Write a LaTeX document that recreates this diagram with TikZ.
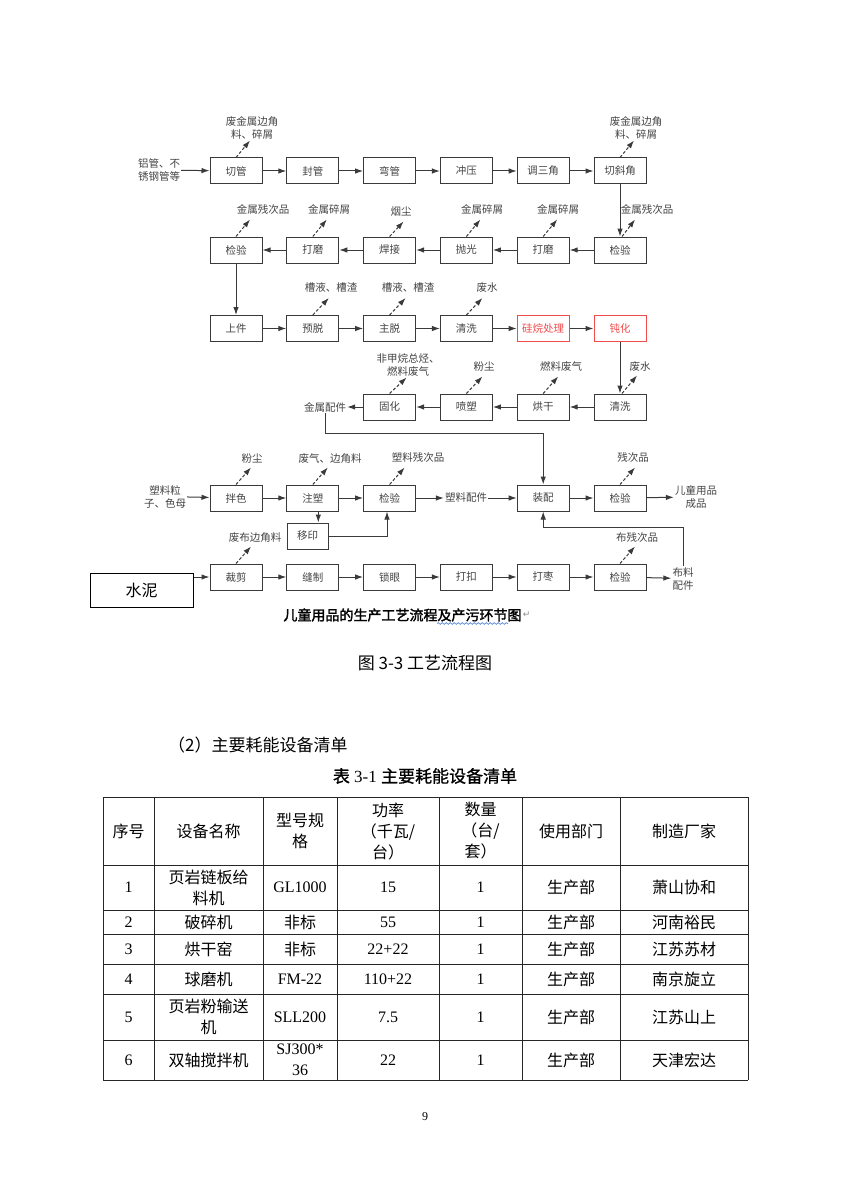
\documentclass[tikz,border=0pt]{standalone}
\usepackage{fontspec}
\setmainfont{Liberation Serif}
\newfontfamily\cjk{Noto Sans CJK SC}
\newfontfamily\cjkb[FakeBold=2]{Noto Sans CJK SC}
\newfontfamily\cjkm[FakeBold=0.8]{Noto Sans CJK SC}
\newfontfamily\symf{DejaVu Sans}
\usepackage{tikz}
\usetikzlibrary{arrows.meta,positioning,decorations.pathmorphing}
\definecolor{linex}{HTML}{3A3A3A}
\definecolor{textx}{HTML}{444444}
\definecolor{redx}{HTML}{F24B4B}
\definecolor{wavex}{HTML}{5B8BD9}
\tikzset{
  ar/.style={-{Latex[length=8pt,width=5.5pt]},line width=1pt,linex},
  em/.style={-{Latex[length=8pt,width=5.5pt]},line width=1pt,linex,dash pattern=on 3pt off 2pt},
  box/.style={draw=linex,line width=1pt,minimum width=52pt,minimum height=26pt,inner sep=0pt,font=\cjk\fontsize{10.5}{10.5}\selectfont,text=textx},
  rbox/.style={box,draw=redx,text=redx},
  lab/.style={font=\cjk\fontsize{10.5}{13}\selectfont,text=textx,align=center,inner sep=1pt},
  cell/.style={font=\cjk\fontsize{16}{21}\selectfont,align=center,inner sep=0pt},
  num/.style={font=\fontsize{16}{21}\selectfont,align=center,inner sep=0pt},
  tl/.style={line width=0.9pt,black!85}
}
\begin{document}
\begin{tikzpicture}[x=1pt,y=-1pt]
\useasboundingbox (0,0) rectangle (850,1201);
\fill[white] (0,0) rectangle (850,1201);

% row 1
\node[lab] (in1) at (159,170) {铝管、不\\锈钢管等};
\node[box] (a1) at (236,171) {切管};
\node[box] (a2) at (312.8,171) {封管};
\node[box] (a3) at (389.6,171) {弯管};
\node[box] (a4) at (466.4,171) {冲压};
\node[box] (a5) at (543.2,171) {调三角};
\node[box] (a6) at (620,171) {切斜角};
\draw[ar] (in1) -- (a1);
\draw[ar] (a1) -- (a2);
\draw[ar] (a2) -- (a3);
\draw[ar] (a3) -- (a4);
\draw[ar] (a4) -- (a5);
\draw[ar] (a5) -- (a6);
\draw[em] (a1.north) -- ++(14,-17);
\draw[em] (a6.north) -- ++(14,-17);
\node[lab] (w1) at (252,128) {废金属边角\\料、碎屑};
\node[lab] (w2) at (636,128) {废金属边角\\料、碎屑};

% row 2
\node[box] (b1) at (236,250) {检验};
\node[box] (b2) at (312.8,250) {打磨};
\node[box] (b3) at (389.6,250) {焊接};
\node[box] (b4) at (466.4,250) {抛光};
\node[box] (b5) at (543.2,250) {打磨};
\node[box] (b6) at (620,250) {检验};
\draw[ar] (a6) -- (b6);
\draw[ar] (b6) -- (b5);
\draw[ar] (b5) -- (b4);
\draw[ar] (b4) -- (b3);
\draw[ar] (b3) -- (b2);
\draw[ar] (b2) -- (b1);
\draw[em] (b1.north) -- ++(14,-17);
\draw[em] (b2.north) -- ++(14,-17);
\draw[em] (b3.north) -- ++(14,-15);
\draw[em] (b4.north) -- ++(14,-17);
\draw[em] (b5.north) -- ++(14,-17);
\draw[em] ([xshift=2pt]b6.north) -- ++(13,-17);
\node[lab] (w3) at (263,209) {金属残次品};
\node[lab] (w4) at (329,209) {金属碎屑};
\node[lab] (w5) at (401,212) {烟尘};
\node[lab] (w6) at (482,209) {金属碎屑};
\node[lab] (w7) at (558,209) {金属碎屑};
\node[lab] (w8) at (647,209) {金属残次品};

% row 3
\node[box] (c1) at (236,328.5) {上件};
\node[box] (c2) at (312.8,328.5) {预脱};
\node[box] (c3) at (389.6,328.5) {主脱};
\node[box] (c4) at (466.4,328.5) {清洗};
\node[rbox] (c5) at (543.2,328.5) {硅烷处理};
\node[rbox] (c6) at (620,328.5) {钝化};
\draw[ar] (b1) -- (c1);
\draw[ar] (c1) -- (c2);
\draw[ar] (c2) -- (c3);
\draw[ar] (c3) -- (c4);
\draw[ar] (c4) -- (c5);
\draw[ar] (c5) -- (c6);
\draw[em] (c2.north) -- ++(16,-17);
\draw[em] (c3.north) -- ++(16,-17);
\draw[em] (c4.north) -- ++(16,-17);
\node[lab] (w9) at (331,288) {槽液、槽渣};
\node[lab] (w10) at (408,288) {槽液、槽渣};
\node[lab] (w11) at (487,288) {废水};

% row 4
\node[lab] (jp) at (325,407) {金属配件};
\node[box] (d3) at (389.6,407) {固化};
\node[box] (d4) at (466.4,407) {喷塑};
\node[box] (d5) at (543.2,407) {烘干};
\node[box] (d6) at (620,407) {清洗};
\draw[ar] (c6) -- (d6);
\draw[ar] (d6) -- (d5);
\draw[ar] (d5) -- (d4);
\draw[ar] (d4) -- (d3);
\draw[ar] (d3) -- (jp);
\draw[em] (d3.north) -- ++(17,-16);
\draw[em] (d4.north) -- ++(16,-17);
\draw[em] (d5.north) -- ++(15,-17);
\draw[em] ([xshift=2pt]d6.north) -- ++(15,-18);
\node[lab] (w12) at (408,365) {非甲烷总烃、\\燃料废气};
\node[lab] (w13) at (484,367) {粉尘};
\node[lab] (w14) at (561,367) {燃料废气};
\node[lab] (w15) at (640,367) {废水};

% row 5
\node[lab] (in2) at (165,496.5) {塑料粒\\子、色母};
\node[box] (e1) at (236,498) {拌色};
\node[box] (e2) at (312.8,498) {注塑};
\node[box] (e3) at (389.6,498) {检验};
\node[lab] (pj) at (466,498) {塑料配件};
\node[box] (e5) at (543.2,498) {装配};
\node[box] (e6) at (620,498) {检验};
\node[lab] (cp) at (696,497) {儿童用品\\成品};
\node[box,minimum width=41pt] (ym) at (307.5,536) {移印};
\coordinate (k1) at (543.2,433);
\draw[ar] (jp.south) |- (k1) -- (e5.north);
\draw[ar] (in2) -- (e1);
\draw[ar] (e1) -- (e2);
\draw[ar] (e2) -- (e3);
\draw[ar] (e3) -- (pj);
\draw[ar] (pj) -- (e5);
\draw[ar] (e5) -- (e6);
\draw[ar] (e6) -- (cp);
\draw[ar] ([xshift=5.5pt]e2.south) -- ([xshift=5.5pt]e2.south |- ym.north);
\draw[ar] (ym.east) -| ([xshift=-2.6pt]e3.south);
\draw[em] (e1.north) -- ++(15,-17);
\draw[em] (e2.north) -- ++(15,-17);
\draw[em] (e3.north) -- ++(15,-17);
\draw[em] (e6.north) -- ++(15,-17);
\node[lab] (w16) at (252,459) {粉尘};
\node[lab] (w17) at (330,459) {废气、边角料};
\node[lab] (w18) at (418,458) {塑料残次品};
\node[lab] (w19) at (633,458) {残次品};

% row 6
\node[draw=black,line width=1pt,minimum width=103pt,minimum height=34pt,font=\cjk\fontsize{16}{16}\selectfont] (shuini) at (141.5,590) {水泥};
\node[box] (f1) at (236,577) {裁剪};
\node[box] (f2) at (312.8,577) {缝制};
\node[box] (f3) at (389.6,577) {锁眼};
\node[box] (f4) at (466.4,577) {打扣};
\node[box] (f5) at (543.2,577) {打枣};
\node[box] (f6) at (620,577) {检验};
\node[lab] (bl) at (683,578.5) {布料\\配件};
\coordinate (k2) at (683,527);
\draw[ar] (shuini.east |- f1) -- (f1);
\draw[ar] (f1) -- (f2);
\draw[ar] (f2) -- (f3);
\draw[ar] (f3) -- (f4);
\draw[ar] (f4) -- (f5);
\draw[ar] (f5) -- (f6);
\draw[ar] (f6) -- (bl);
\draw[ar] (bl.north) -- (k2) -| (e5.south);
\draw[em] (f1.north) -- ++(15,-17);
\draw[em] (f6.north) -- ++(15,-17);
\node[lab] (w20) at (255,538) {废布边角料};
\node[lab] (w21) at (637,538) {布残次品};

% captions
\node[font=\cjkb\fontsize{14}{14}\selectfont,inner sep=0pt] (cap1) at (402.5,615) {儿童用品的生产工艺流程及产污环节图};
\node[font=\symf\fontsize{9}{9}\selectfont,text=black!45,inner sep=0pt,right=1pt of cap1] (ret) {↵};
\draw[wavex,line width=0.7pt,decorate,decoration={snake,amplitude=0.9pt,segment length=4pt}] (437,623.5) -- (508,623.5);
\node[font=\cjk\fontsize{17}{17}\selectfont,inner sep=0pt] (cap2) at (425,663) {图 3-3 工艺流程图};
\node[font=\cjk\fontsize{17}{17}\selectfont,inner sep=0pt,anchor=west] (sec) at (168,745) {（2）主要耗能设备清单};
\node[font=\fontsize{17}{17}\selectfont,inner sep=0pt] (ttl) at (425,776) {{\cjkm 表} 3-1 {\cjkm 主要耗能设备清单}};

% table
\foreach \x in {103,154,263,337,439,522,620,748}
  \draw[tl] (\x,797) -- (\x,1080);
\foreach \y in {797,865,910,934,964,994,1040,1080}
  \draw[tl] (103,\y) -- (748,\y);
\node[cell] (h1) at (128.5,831) {序号};
\node[cell] (h2) at (208.5,831) {设备名称};
\node[cell] (h3) at (300,831) {型号规\\格};
\node[cell] (h4) at (388,831) {功率\\（千瓦/\\台）};
\node[cell] (h5) at (480.5,831) {数量\\（台/\\套）};
\node[cell] (h6) at (571,831) {使用部门};
\node[cell] (h7) at (684,831) {制造厂家};
\foreach \y/\k/\nm/\xh/\pw/\fac in {
  887.5/1/{页岩链板给\\料机}/GL1000/15/萧山协和,
  922/2/破碎机/{\cjk 非标}/55/河南裕民,
  949/3/烘干窑/{\cjk 非标}/22+22/江苏苏材,
  979/4/球磨机/FM-22/110+22/南京旋立,
  1017/5/{页岩粉输送\\机}/SLL200/7.5/江苏山上,
  1060/6/双轴搅拌机/{SJ300*\\36}/22/天津宏达}{
  \node[num] (no\k) at (128.5,\y) {\k};
  \node[cell] (nm\k) at (208.5,\y) {\nm};
  \node[num] (xh\k) at (300,\y) {\xh};
  \node[num] (pw\k) at (388,\y) {\pw};
  \node[num] (qt\k) at (480.5,\y) {1};
  \node[cell] (dp\k) at (571,\y) {生产部};
  \node[cell] (fc\k) at (684,\y) {\fac};
}
\node[font=\fontsize{12}{12}\selectfont] (pg) at (425,1117) {9};
\end{tikzpicture}
\end{document}
